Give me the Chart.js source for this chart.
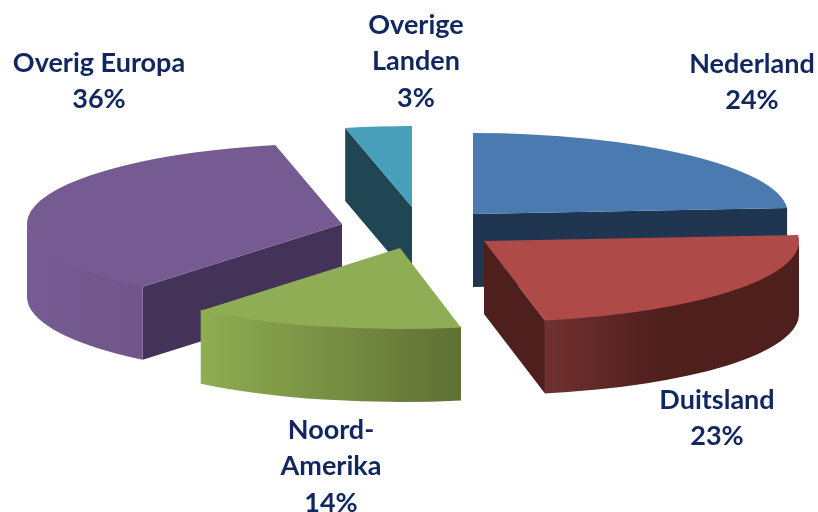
<!DOCTYPE html>
<html><head><meta charset="utf-8">
<style>html,body{margin:0;padding:0;background:#fff}canvas{display:block}</style>
<script src="https://cdn.jsdelivr.net/npm/chart.js@4"></script>
</head><body><canvas id="c" width="818" height="512"></canvas>
<script>
const categories = ["Nederland", "Duitsland", "Noord-\nAmerika", "Overig Europa", "Overige\nLanden"];
const shares = [23.8, 23.1, 14.0, 35.7, 3.4];

const topColors = ["#4a7ab0", "#ae4a47", "#8fad55", "#755b91", "#479fb9"];
const cutColors = ["#1f3550", "#4f1f1e", "#66783a", "#443358", "#1f4652"];
const wallStops = [["#1f3550", "#1f3550"], ["#703130", "#4f1f1e"], ["#8fad52", "#5f7034"], ["#775c93", "#6f5589"], ["#1f4652", "#1f4652"]];
const wallFade = [1, 0.45, 1, 1, 1];
const explodeX = [57, 68, -16, -74, -4];
const explodeY = [-13, 14, 21, -3, -20];
const drawOrder = [4, 3, 0, 2, 1];
const labelCenters = [[752, 64], [717, 400], [331, 430], [99, 63], [416, 25]];

const view = { cx: 416, cy: 227, squash: 0.257, depth: 73, lineHeight: 36.5 };

const pie3d = {
  id: 'pie3d',
  beforeDatasetsDraw(chart) {
    const ctx = chart.ctx, arcs = chart.getDatasetMeta(0).data;
    drawOrder.forEach(i => {
      const arc = arcs[i];
      const R = arc.outerRadius, k = view.squash, d = view.depth;
      const ax = view.cx + explodeX[i];
      const ay = view.cy + explodeY[i];
      const edge = t => [ax + Math.cos(t) * R, ay + Math.sin(t) * R * k];
      const cut = t => {
        const [x, y] = edge(t);
        ctx.beginPath();
        ctx.moveTo(ax, ay); ctx.lineTo(x, y); ctx.lineTo(x, y + d); ctx.lineTo(ax, ay + d);
        ctx.closePath();
        ctx.fillStyle = cutColors[i];
        ctx.fill();
      };
      if (Math.cos(arc.startAngle) < -1e-6) cut(arc.startAngle);
      if (Math.cos(arc.endAngle) > 1e-6) cut(arc.endAngle);
      // outer wall: only the part of the rim that faces the viewer
      const lo = Math.max(arc.startAngle, 0), hi = Math.min(arc.endAngle, Math.PI);
      if (hi > lo) {
        const g = ctx.createLinearGradient(edge(hi)[0], 0, edge(lo)[0], 0);
        g.addColorStop(0, wallStops[i][0]);
        g.addColorStop(wallFade[i], wallStops[i][1]);
        g.addColorStop(1, wallStops[i][1]);
        ctx.beginPath();
        ctx.ellipse(ax, ay - 1, R, R * k, 0, lo, hi, false);
        ctx.ellipse(ax, ay + d, R, R * k, 0, hi, lo, true);
        ctx.closePath();
        ctx.fillStyle = g;
        ctx.fill();
      }
      // top face: the library's own arc element, squashed and moved
      ctx.save();
      ctx.translate(ax, ay);
      ctx.scale(1, k);
      ctx.translate(-arc.x, -arc.y);
      arc.draw(ctx);
      ctx.restore();
    });
    return false;
  },
  afterDraw(chart) {
    const ctx = chart.ctx;
    ctx.save();
    ctx.font = 'bold 27px Lato';
    ctx.fillStyle = '#10285f';
    ctx.textAlign = 'center';
    ctx.textBaseline = 'middle';
    categories.forEach((name, i) => {
      const lines = name.split('\n').concat(Math.round(shares[i]) + '%');
      lines.forEach((ln, j) => ctx.fillText(ln, labelCenters[i][0], labelCenters[i][1] + j * view.lineHeight));
    });
    ctx.restore();
  }
};

new Chart(document.getElementById('c'), {
  type: 'pie',
  data: {
    labels: categories,
    datasets: [{ data: shares, backgroundColor: topColors, borderWidth: 0, hoverOffset: 0 }]
  },
  options: {
    responsive: false,
    animation: false,
    radius: 315,
    rotation: 0,
    events: [],
    plugins: { legend: { display: false }, tooltip: { enabled: false } }
  },
  plugins: [pie3d]
});
</script></body></html>
